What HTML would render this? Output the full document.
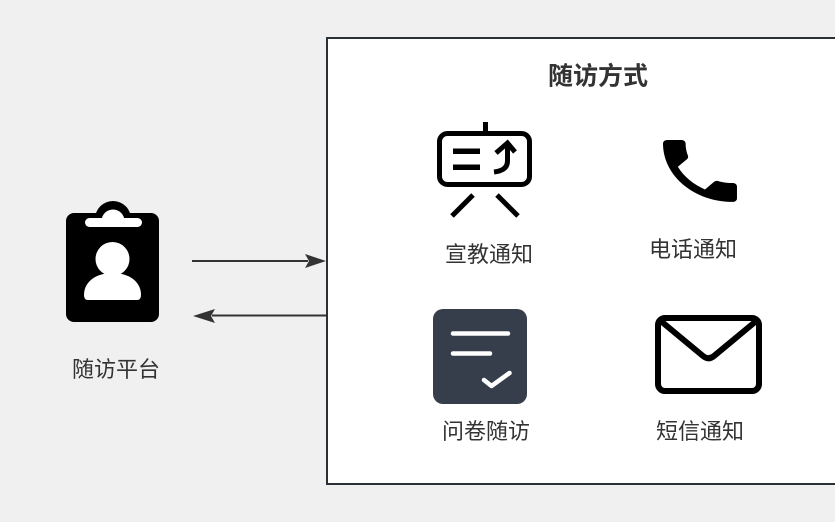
<!DOCTYPE html>
<html>
<head>
<meta charset="utf-8">
<style>
  html,body{margin:0;padding:0;background:#f0f0f0;}
  body{width:835px;height:522px;overflow:hidden;}
  svg{display:block;}
  text{font-family:"Liberation Sans","Noto Sans CJK SC",sans-serif;fill:#333;}
</style>
</head>
<body>
<svg width="835" height="522" viewBox="0 0 835 522" xmlns="http://www.w3.org/2000/svg">
  <rect x="0" y="0" width="835" height="522" fill="#f0f0f0"/>

  <!-- container box -->
  <rect x="327" y="38" width="600" height="446" fill="#ffffff" stroke="#2b3036" stroke-width="2"/>
  <text x="598" y="84.5" font-size="25" font-weight="bold" text-anchor="middle">随访方式</text>

  <!-- clipboard user icon -->
  <rect x="66" y="213" width="93" height="109" rx="8" fill="#000"/>
  <circle cx="113" cy="219" r="18" fill="#000"/>
  <path d="M101.5 221 A11.5 11.5 0 0 1 124.5 221 Z" fill="#fff"/>
  <rect x="85" y="218" width="57" height="9" rx="4.5" fill="#fff"/>
  <circle cx="112.5" cy="259" r="17" fill="#fff"/>
  <path d="M88 300 Q84 300 84 295 C84 281 97 273 112.5 273 C128 273 141 281 141 295 Q141 300 137 300 Z" fill="#fff"/>
  <text x="116" y="377" font-size="22" text-anchor="middle">随访平台</text>

  <!-- arrows -->
  <line x1="192" y1="261" x2="308" y2="261" stroke="#333" stroke-width="2"/>
  <polygon points="326,261 305,254 309,261 305,268" fill="#333"/>
  <line x1="326" y1="315.5" x2="212" y2="315.5" stroke="#333" stroke-width="2"/>
  <polygon points="193,316 215,309 211,316 215,323" fill="#333"/>

  <!-- easel icon (宣教) -->
  <g stroke="#000" fill="none" stroke-width="5">
    <rect x="439.5" y="133.5" width="90" height="51" rx="8"/>
    <line x1="485.5" y1="122" x2="485.5" y2="133"/>
    <line x1="473" y1="195" x2="452" y2="216"/>
    <line x1="497" y1="195" x2="518" y2="216"/>
    <path d="M507.5 146 V161 Q507.5 170.5 494 172"/>
    <path d="M496 153 L507.5 143 L515 152"/>
  </g>
  <rect x="453" y="148.5" width="27" height="5.5" fill="#000"/>
  <rect x="453" y="164.5" width="27" height="5.5" fill="#000"/>
  <text x="489" y="262" font-size="22" text-anchor="middle">宣教通知</text>

  <!-- phone icon -->
  <g transform="translate(663,140) scale(4.11,3.44) translate(-3,-3)">
    <path d="M6.62 10.79c1.44 2.830 3.76 5.14 6.59 6.59l2.2-2.2c.27-.27.67-.36 1.02-.24 1.12.37 2.33.57 3.57.57.55 0 1 .45 1 1V20c0 .55-.45 1-1 1-9.390 0-17-7.61-17-17 0-.55.45-1 1-1h3.5c.55 0 1 .45 1 1 0 1.25.2 2.45.57 3.57.11.35.03.74-.25 1.020l-2.2 2.2z" fill="#000"/>
  </g>
  <text x="693" y="257" font-size="22" text-anchor="middle">电话通知</text>

  <!-- questionnaire icon -->
  <rect x="433" y="309" width="94" height="95" rx="10" fill="#363d4b"/>
  <g stroke="#fff" stroke-width="4.5" stroke-linecap="round" stroke-linejoin="round" fill="none">
    <line x1="453" y1="333.5" x2="508" y2="333.5"/>
    <line x1="453" y1="353.5" x2="490" y2="353.5"/>
    <path d="M484 380 L491.5 386 L509.5 373"/>
  </g>
  <text x="486" y="439" font-size="22" text-anchor="middle">问卷随访</text>

  <!-- envelope icon -->
  <g stroke="#000" stroke-width="6" fill="none" stroke-linejoin="round" stroke-linecap="round">
    <rect x="658" y="318" width="101" height="73" rx="7"/>
    <path d="M662 322 L703 356 Q708.5 360.5 714 356 L755 322"/>
  </g>
  <text x="700" y="439" font-size="22" text-anchor="middle">短信通知</text>
</svg>
</body>
</html>
